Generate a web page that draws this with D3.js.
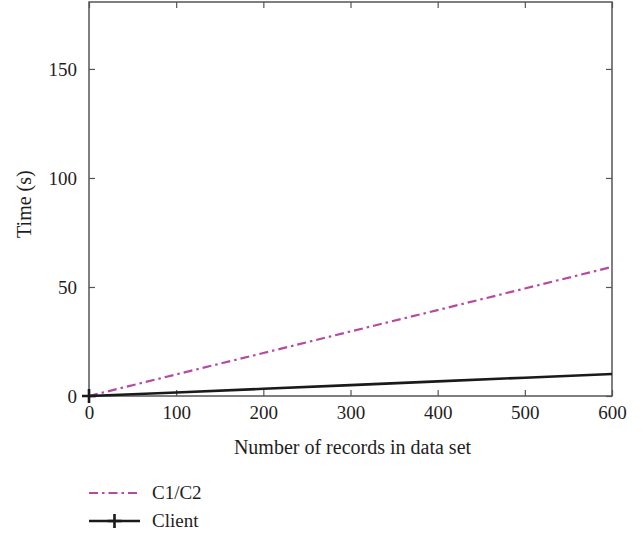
<!DOCTYPE html>
<html>
<head>
<meta charset="utf-8">
<script src="https://cdn.jsdelivr.net/npm/d3@7"></script>
<style>
  body { margin: 0; background: #fff; }
</style>
</head>
<body>
<div id="chart"></div>
<script>
var records = [0, 100, 200, 300, 400, 500, 600];
var c1c2 = [0, 9.9, 19.7, 29.6, 39.4, 49.3, 59.2];
var client = [0, 1.6, 3.3, 5.0, 6.7, 8.4, 10.1];
var xTicks = [0, 100, 200, 300, 400, 500, 600];
var yTicks = [0, 50, 100, 150];

var font = "Liberation Serif";
var fontSize = 19;

var margin = {top: 2, right: 32, bottom: 139, left: 89};
var width = 644 - margin.left - margin.right;
var height = 535 - margin.top - margin.bottom;

var root = d3.select("#chart")
    .append("svg")
    .attr("width", 644)
    .attr("height", 535)
    .attr("font-family", font)
    .attr("font-size", fontSize);

var svg = root.append("g")
    .attr("transform", `translate(${margin.left}, ${margin.top})`);

var x = d3.scaleLinear().domain([0, 600]).range([0, width]);
var y = d3.scaleLinear().domain([0, 180.7]).range([height, 0]);

// frame
svg.append("rect")
    .attr("width", width)
    .attr("height", height)
    .attr("fill", "none")
    .attr("stroke", "#555")
    .attr("stroke-width", 1.5);

var styleAxis = function(g) {
    g.attr("font-family", font).attr("font-size", fontSize);
    g.select(".domain").remove();
    g.selectAll(".tick line").attr("stroke", "#555").attr("stroke-width", 1.2);
    g.selectAll("text").attr("fill", "#1e1e1e");
};

svg.append("g")
    .attr("transform", `translate(0, ${height})`)
    .call(d3.axisBottom(x).tickValues(xTicks).tickSizeInner(-6).tickPadding(10))
    .call(styleAxis);

svg.append("g")
    .call(d3.axisTop(x).tickValues(xTicks).tickSizeInner(-6).tickFormat(""))
    .call(styleAxis);

svg.append("g")
    .call(d3.axisLeft(y).tickValues(yTicks).tickSizeInner(-6).tickPadding(12))
    .call(styleAxis);

svg.append("g")
    .attr("transform", `translate(${width}, 0)`)
    .call(d3.axisRight(y).tickValues(yTicks).tickSizeInner(-6).tickFormat(""))
    .call(styleAxis);

// axis titles
svg.append("text")
    .attr("x", width / 2 + 2)
    .attr("y", height + 58)
    .attr("text-anchor", "middle")
    .attr("font-size", 20)
    .attr("fill", "#1e1e1e")
    .text("Number of records in data set");

svg.append("text")
    .attr("transform", `translate(-58, ${y(88)}) rotate(-90)`)
    .attr("text-anchor", "middle")
    .attr("font-size", 20)
    .attr("fill", "#1e1e1e")
    .text("Time (s)");

var line = d3.line()
    .x(function(d) { return x(d[0]); })
    .y(function(d) { return y(d[1]); });

var magenta = "#b54aa2";

svg.append("path")
    .datum(d3.zip(records, c1c2))
    .attr("d", line)
    .attr("fill", "none")
    .attr("stroke", magenta)
    .attr("stroke-width", 2.2)
    .attr("stroke-dasharray", "9,4,2.5,4");

svg.append("path")
    .datum(d3.zip(records, client))
    .attr("d", line)
    .attr("fill", "none")
    .attr("stroke", "#1a1a1a")
    .attr("stroke-width", 2.6);

var plus = function(g, cx, cy) {
    g.append("path")
        .attr("d", `M${cx - 7},${cy}H${cx + 7}M${cx},${cy - 7}V${cy + 7}`)
        .attr("stroke", "#1a1a1a")
        .attr("stroke-width", 2.6);
};
plus(svg, x(records[0]), y(client[0]));

// legend
var legend = root.append("g");
legend.append("line")
    .attr("x1", 89).attr("x2", 140)
    .attr("y1", 493).attr("y2", 493)
    .attr("stroke", magenta)
    .attr("stroke-width", 2.2)
    .attr("stroke-dasharray", "9,4,2.5,4");
legend.append("text")
    .attr("x", 152).attr("y", 499)
    .attr("fill", "#1e1e1e")
    .text("C1/C2");

legend.append("line")
    .attr("x1", 89).attr("x2", 140)
    .attr("y1", 521).attr("y2", 521)
    .attr("stroke", "#1a1a1a")
    .attr("stroke-width", 2.6);
plus(legend, 114.5, 521);
legend.append("text")
    .attr("x", 152).attr("y", 527)
    .attr("fill", "#1e1e1e")
    .text("Client");
</script>
</body>
</html>
